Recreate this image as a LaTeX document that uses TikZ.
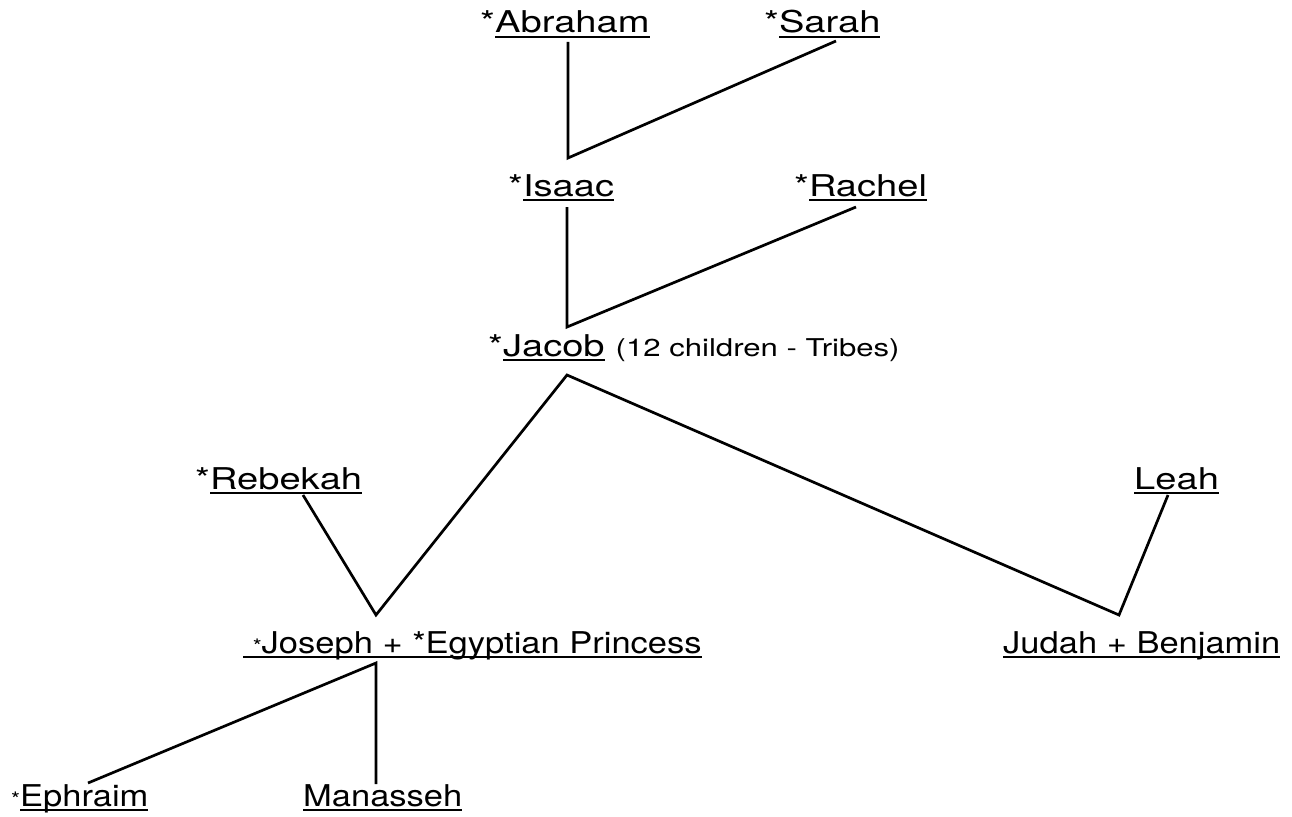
\documentclass[tikz,border=0pt]{standalone}
\usepackage{fontspec}
\setmainfont{TeX Gyre Heros}
\newfontfamily\wideface{TeX Gyre Heros}[FakeStretch=1.27]
\newfontfamily\narrowface{TeX Gyre Heros}[FakeStretch=1.15]
\usetikzlibrary{positioning}

% underline drawn as a rule below the baseline
\newcommand{\uname}[1]{\setbox0\hbox{#1}\rlap{\rule[-5pt]{\wd0}{2.4pt}}\box0}
\newcommand{\smallstar}{{\fontsize{20}{24}\selectfont *}}

\begin{document}
\begin{tikzpicture}[
    x=1pt, y=-1pt,
    upper/.style={anchor=base west, inner sep=0pt, font=\wideface\fontsize{30}{36}\selectfont},
    lower/.style={anchor=base west, inner sep=0pt, font=\narrowface\fontsize{30}{36}\selectfont},
    link/.style={line width=2.7pt}
]
\useasboundingbox (0,0) rectangle (1292,816);

% Names
\node[upper] (abraham) at (480,33) {*\uname{Abraham}};
\node[upper] (sarah) at (764,33) {*\uname{Sarah}};
\node[upper] (isaac) at (508,196) {*\uname{Isaac}};
\node[upper] (rachel) at (794,196) {*\uname{Rachel}};
\node[upper] (jacob) at (488,356) {*\uname{Jacob}\hspace{11pt}{\fontsize{24.5}{29}\selectfont (12 children - Tribes)}};
\node[upper] (rebekah) at (195,489) {*\uname{Rebekah}};
\node[upper] (leah) at (1134,489) {\uname{Leah}};
\node[lower] (joseph) at (243,653) {\uname{\ \smallstar Joseph + *Egyptian Princess}};
\node[lower] (judah) at (1003,653) {\uname{Judah + Benjamin}};
\node[lower] (ephraim) at (11,806) {\smallstar\uname{Ephraim}};
\node[lower] (manasseh) at (303,806) {\uname{Manasseh}};

% Line ends and junctions
\coordinate (abrF) at (568,42);
\coordinate (sarF) at (836,41);
\coordinate (vIsaac) at (568,158);
\coordinate (isaF) at (567,207);
\coordinate (racF) at (856,207);
\coordinate (vJacob) at (567,327);
\coordinate (jacF) at (567,375);
\coordinate (rebF) at (303,495);
\coordinate (vJoseph) at (376,615);
\coordinate (leaF) at (1168,495);
\coordinate (vJudah) at (1119,615);
\coordinate (josF) at (376,663);
\coordinate (ephF) at (88,783);
\coordinate (manF) at (376,784);

% Lines
\draw[link] (abrF) -- (vIsaac) -- (sarF);
\draw[link] (isaF) -- (vJacob) -- (racF);
\draw[link] (rebF) -- (vJoseph) -- (jacF) -- (vJudah) -- (leaF);
\draw[link] (ephF) -- (josF) -- (manF);

\end{tikzpicture}
\end{document}
